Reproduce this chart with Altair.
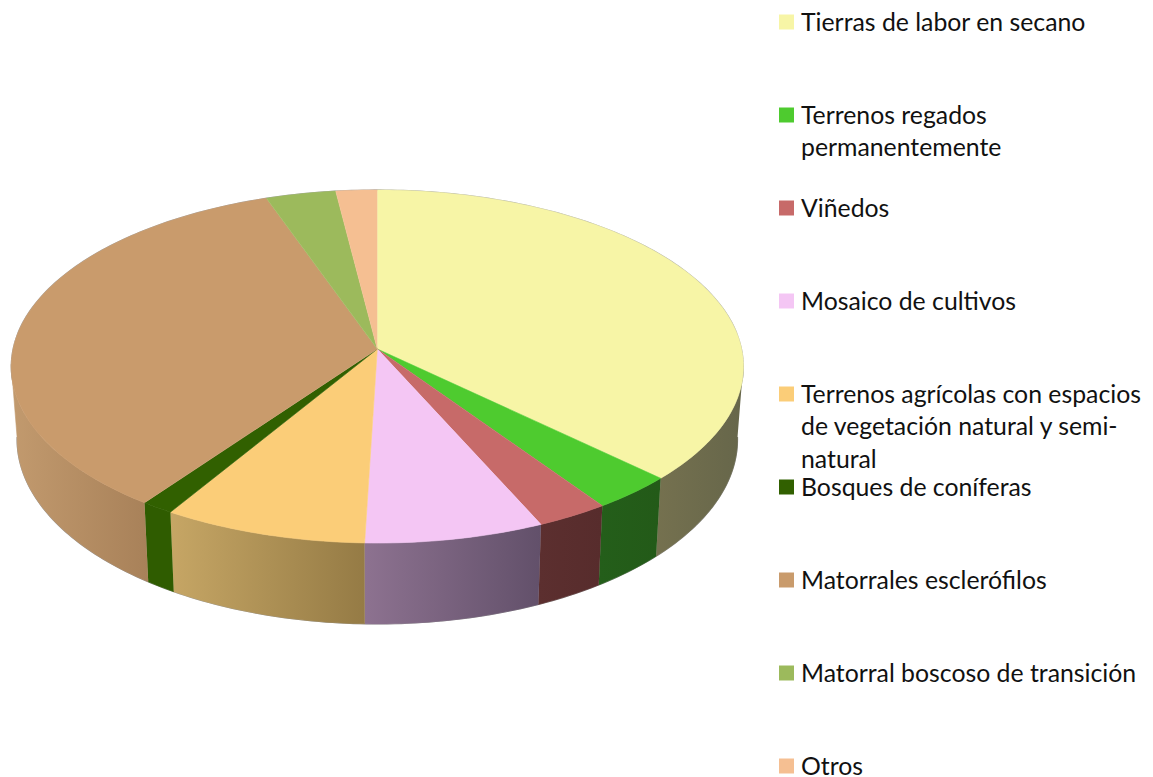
import math
import altair as alt
import pandas as pd

categories = ["Tierras de labor en secano", "Terrenos regados\npermanentemente", "Viñedos",
              "Mosaico de cultivos",
              "Terrenos agrícolas con espacios\nde vegetación natural y semi-\nnatural",
              "Bosques de coníferas", "Matorrales esclerófilos",
              "Matorral boscoso de transición", "Otros"]
shares = [37.1, 3.3, 2.9, 7.2, 8.2, 1.3, 34.6, 3.4, 2.0]
top_colors = ["#f7f5a6", "#4ecb2f", "#c76a69", "#f4c6f4", "#fbcd78", "#316000", "#c99b6c", "#9cba5c", "#f5bf92"]
wall_left = ["#75714f", "#245e1a", "#5c2f2f", "#8d7290", "#c6a665", "#2f5c00", "#c29a6e", None, None]
wall_right = ["#66664a", "#235a18", "#572c2c", "#62506a", "#957b45", "#2f5c00", "#a88159", None, None]

CX, CY, R, B, A = 377.3, 349.0, 364.3, 174.8, 0.0991
DROP, SHRINK_X, STRETCH_Y = 72.0, 0.984, 1.046
FONT_SIZE = 24.8
ROW_PITCH, ROW_START, LINE_PITCH, TEXT_SHIFT = 93.0, 22.0, 32.5, 1.5


def project(deg, bottom=False):
    t = math.radians(deg)
    u, v = math.sin(t), math.cos(t)
    w = 1 + A * v
    sx = SHRINK_X if bottom else 1.0
    sy = STRETCH_Y if bottom else 1.0
    return CX + sx * R * u / w, CY + (DROP if bottom else 0) - sy * B * v / w


def arc(a0, a1, bottom=False):
    n = max(2, int(abs(a1 - a0)) + 2)
    return [project(a0 + (a1 - a0) * i / (n - 1), bottom) for i in range(n)]


def frame(points):
    return pd.DataFrame({"x": [p[0] for p in points], "y": [p[1] for p in points], "i": range(len(points))})


X = alt.X("x:Q", scale=alt.Scale(domain=[8, 1145]), axis=None)
Y = alt.Y("y:Q", scale=alt.Scale(domain=[8, 777], reverse=True), axis=None)


def polygon(points, fill, stroke=None):
    return alt.Chart(frame(points)).mark_line(
        fill=fill, stroke=stroke if stroke is not None else fill, strokeWidth=0.6, clip=False
    ).encode(x=X, y=Y, order="i:Q")


def gradient(c0, c1):
    return alt.Gradient(gradient="linear", x1=0, x2=1, y1=0, y2=0,
                        stops=[alt.GradientStop(color=c0, offset=0), alt.GradientStop(color=c1, offset=1)])


layers = []
edges = [0.0]
for s in shares:
    edges.append(edges[-1] + s * 3.6 * 100 / sum(shares))
FRONT0, FRONT1 = 95.0, 265.0

# soft rim below the side wall
layers.append(alt.Chart(frame(arc(FRONT0, FRONT1, True))).mark_line(stroke="#9a9a9a", strokeWidth=1.2).encode(x=X, y=Y, order="i:Q"))

for k, (a0, a1) in enumerate(zip(edges[:-1], edges[1:])):
    if wall_left[k] is None:
        continue
    lo, hi = max(a0, FRONT0), min(a1, FRONT1)
    if lo >= hi:
        continue
    pts = arc(lo, hi) + arc(hi, lo, True)
    g = gradient(wall_left[k], wall_right[k])
    layers.append(polygon(pts, g, g))

# thin grey rim along the back of the disc
layers.append(alt.Chart(frame(arc(-85, 85))).mark_line(stroke="#a8a8a8", strokeWidth=1.2).encode(x=X, y=Y, order="i:Q"))
for side in (arc(85, 100), arc(260, 275)):
    layers.append(alt.Chart(frame(side)).mark_line(stroke="#a8a8a8", strokeWidth=1).encode(x=X, y=Y, order="i:Q"))

for k, (a0, a1) in enumerate(zip(edges[:-1], edges[1:])):
    layers.append(polygon([(CX, CY)] + arc(a0, a1), top_colors[k]))

# legend
sq, txt = [], []
for r, label in enumerate(categories):
    yc = ROW_START + r * ROW_PITCH
    sq.append({"x": 786.5, "y": yc, "cat": label, "color": top_colors[r]})
    for j, line in enumerate(label.split("\n")):
        txt.append({"x": 801, "y": yc + TEXT_SHIFT + j * LINE_PITCH, "line": line})

layers.append(alt.Chart(pd.DataFrame(sq)).mark_square(size=225, opacity=1, clip=False).encode(
    x=X, y=Y, color=alt.Color("color:N", scale=None)))
layers.append(alt.Chart(pd.DataFrame(txt)).mark_text(
    align="left", baseline="middle", font="Lato", fontSize=FONT_SIZE, color="#111111", clip=False
).encode(x=X, y=Y, text="line:N"))

chart = alt.layer(*layers).properties(width=1137, height=769, padding=0, background="white"
    ).configure_view(stroke=None).resolve_scale(color="independent")
chart.save("out.html", embed_options={"renderer": "svg", "actions": False})
